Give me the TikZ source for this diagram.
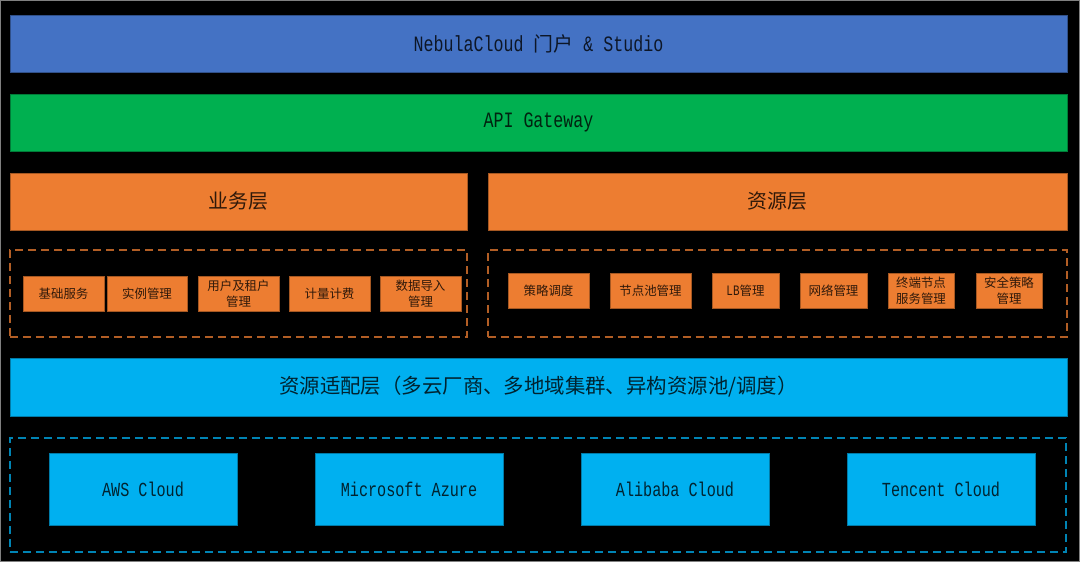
\documentclass[tikz,border=0pt]{standalone}
\usepackage{fontspec}
\setmainfont{Liberation Mono}[FakeStretch=0.76]
\newfontfamily\cjk{Noto Sans CJK SC}
\newfontfamily\mono{Liberation Mono}[FakeStretch=0.76]
\definecolor{portalblue}{HTML}{4472C4}
\definecolor{apigreen}{HTML}{00B050}
\definecolor{layerorange}{HTML}{ED7D31}
\definecolor{adaptcyan}{HTML}{00B0F0}
\begin{document}
\begin{tikzpicture}[x=1bp, y=-1bp,
    bar/.style={draw=#1!70!black, fill=#1, text=black, text opacity=0.8, inner sep=0pt, minimum height=57bp},
    item/.style={bar=layerorange, minimum height=35bp, align=center, font=\cjk\fontsize{12.5}{16}\selectfont},
    cloudbox/.style={bar=adaptcyan, minimum width=188bp, minimum height=72bp, font=\mono\fontsize{20}{24}\selectfont},
    zone/.style={draw=#1!75!black, dashed, dash pattern=on 8bp off 5bp, line width=2bp, inner sep=0pt}]
    \fill[black] (0,0) rectangle (1080,562);
    \draw[gray, line width=1bp] (0.5,0.5) rectangle (1079.5,561.5);
    \useasboundingbox (0,0) rectangle (1080,562);
    % top layers
    \node[bar=portalblue, minimum width=1057bp, font=\fontsize{22}{26}\selectfont] (portal) at (538.5,43.5) {NebulaCloud {\cjk\fontsize{20}{24}\selectfont 门户} \& Studio};
    \node[bar=apigreen, minimum width=1057bp, font=\fontsize{22}{26}\selectfont] (gateway) at (538.5,122.5) {API Gateway};
    \node[bar=layerorange, minimum width=457bp, font=\cjk\fontsize{20}{24}\selectfont] (biz) at (238.5,201.5) {业务层};
    \node[bar=layerorange, minimum width=579bp, font=\cjk\fontsize{20}{24}\selectfont] (res) at (777.5,201.5) {资源层};
    % service boxes
    \node[zone=layerorange, minimum width=457bp, minimum height=87bp] (bizzone) at (238.5,293.5) {};
    \node[zone=layerorange, minimum width=579bp, minimum height=87bp] (reszone) at (777,293.5) {};
    \foreach \x/\w/\t [count=\i] in {63.5/81/基础服务, 147/80/实例管理, 238.5/81/{用户及租户\\管理}, 329.5/81/计量计费, 420.5/81/{数据导入\\管理}}
        \node[item, minimum width=\w bp] (biz\i) at (\x,293.5) {\t};
    \foreach \x/\w/\t [count=\i] in {548.5/81/策略调度, 650.5/81/节点池管理, 745.5/67/{{\mono\fontsize{14.5}{16}\selectfont LB}管理}, 833.5/67/网络管理, 921/66/{终端节点\\服务管理}, 1009/66/{安全策略\\管理}}
        \node[item, minimum width=\w bp] (res\i) at (\x,290.5) {\t};
    % adapter and clouds
    \node[bar=adaptcyan, minimum width=1057bp, minimum height=58bp, font=\cjk\fontsize{20.5}{24}\selectfont] (adapter) at (538.5,387) {资源适配层（多云厂商、多地域集群、异构资源池/调度）};
    \node[zone=adaptcyan, minimum width=1056bp, minimum height=114bp] (cloudzone) at (538,495) {};
    \node[cloudbox] (aws) at (143,489) {AWS Cloud};
    \node[cloudbox] (azure) at (409,489) {Microsoft Azure};
    \node[cloudbox] (alibaba) at (675,489) {Alibaba Cloud};
    \node[cloudbox] (tencent) at (941,489) {Tencent Cloud};
\end{tikzpicture}
\end{document}
